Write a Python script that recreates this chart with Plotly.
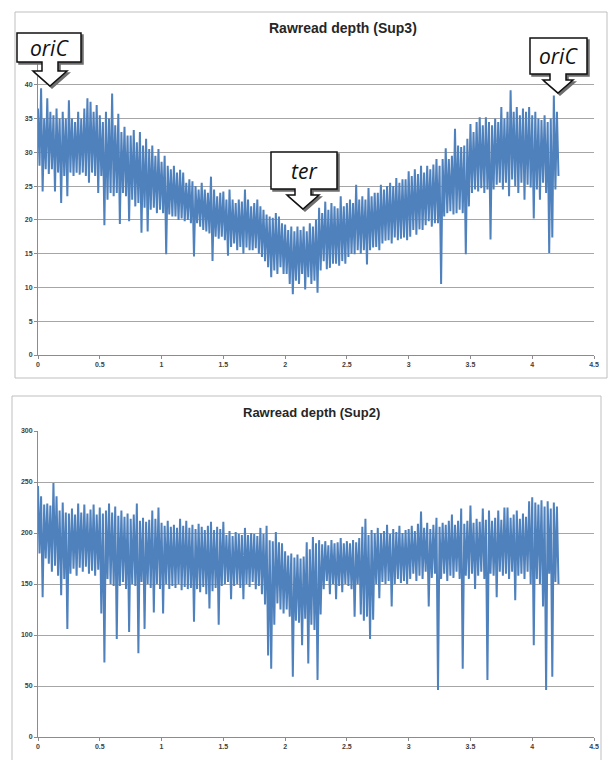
import plotly.graph_objects as go

# ---------------- data ----------------
# genome position step (Mb) between successive envelope samples
step = 0.025
x_ticks = [0, 0.5, 1, 1.5, 2, 2.5, 3, 3.5, 4, 4.5]
x_tick_text = ["0", "0.5", "1", "1.5", "2", "2.5", "3", "3.5", "4", "4.5"]
y_ticks_sup3 = [0, 5, 10, 15, 20, 25, 30, 35, 40, 45]
y_tick_text_sup3 = ["0", "5", "10", "15", "20", "25", "30", "35", "40", ""]
y_ticks_sup2 = [0, 50, 100, 150, 200, 250, 300]
y_tick_text_sup2 = ["0", "50", "100", "150", "200", "250", "300"]

# Sup3: local highs / lows of the raw read depth trace
sup3_high = [
    36.5, 39.5, 35, 38, 36, 35.5, 36.5, 35, 36, 35,
    37.7, 35, 34.5, 36, 35, 36.5, 38, 37.5, 36, 37,
    35.5, 34.5, 36, 35, 38.7, 34, 35.7, 33, 33.8, 32.5,
    32.5, 33.3, 31.5, 33, 31, 32, 30.5, 31, 29.5, 30.5,
    28.6, 29.5, 28, 27.5, 28, 27, 27.4, 27, 25.5, 26,
    25.7, 25, 24.5, 25.5, 24.5, 24, 26.4, 24.5, 23.5, 24,
    24.2, 23, 24.5, 23, 22.5, 23, 22.7, 24.5, 23, 22,
    22.5, 23, 22, 21.5, 20.8, 20.5, 20.3, 21, 20.5, 19.5,
    19.3, 18.5, 19, 18.3, 19, 18.5, 19, 18.3, 19.5, 19,
    20, 21.8, 21, 22.7, 21.5, 22.5, 22, 21.7, 23.5, 22,
    22.5, 23, 22.5, 25.2, 23, 23.5, 23, 24.7, 23.5, 24,
    24, 25.2, 24.5, 25, 25.5, 25, 26.2, 25.5, 26, 26,
    27.2, 26.5, 27.5, 26.8, 28, 27, 28, 27.5, 28.2, 29,
    28, 29, 30.6, 29, 29.5, 33.5, 31, 30.8, 31, 32,
    34.2, 33, 34.5, 35.2, 34, 35.2, 34.5, 34, 35, 34.5,
    36.7, 35, 36, 39.2, 36, 36.7, 35.5, 36.5, 36, 36.7,
    35.5, 36, 35, 34.8, 35.5, 34.5, 35, 38.4, 36,
]
sup3_low = [
    28, 24.2, 27.5, 26.8, 27.5, 24.2, 27, 22.5, 26.5, 23.5,
    27, 26.5, 27, 26.7, 27, 26.5, 25.5, 27, 26.5, 24,
    26.5, 19.2, 23, 24, 23.5, 24, 19.4, 24, 23.5, 19.8,
    23, 22, 22.5, 18.1, 21.8, 18.3, 21.5, 21.8, 21, 21.5,
    21, 14.9, 20.8, 20.5, 20.5, 20, 20.2, 19.8, 20, 19.5,
    14.6, 19.5, 19, 18.5, 18.3, 18, 13.9, 17.5, 17.2, 17.5,
    17, 14.7, 16, 16.5, 15.5, 16, 15, 15.9, 15.5, 15.5,
    15.8, 15, 14.5, 13.9, 13, 11.5, 12.5, 12, 13, 12,
    12, 10.5, 9, 11, 10.5, 12, 9.7, 11.5, 10.5, 11,
    9.2, 12.5, 13.9, 12.7, 12.9, 13.5, 13.5, 13.2, 13.9, 13.5,
    14.5, 15, 14.9, 15.5, 15, 15.5, 13.4, 15.5, 15.9, 16,
    15.5, 16.5, 16.9, 17, 16.5, 17.4, 17, 17.2, 17.4, 17,
    17.5, 18.5, 17.8, 18.6, 18.5, 19.2, 19.8, 19, 19.5, 19.5,
    10.5, 20.5, 21, 21.3, 20.8, 21, 21.5, 21, 14.9, 22,
    24, 24.5, 24.2, 24.7, 24, 24.5, 17.1, 24.5, 25.2, 25.5,
    24.5, 25.5, 23.5, 26, 25, 24, 25.5, 23, 25.2, 24.8,
    20.2, 24.5, 23, 25.5, 24, 15.1, 17.4, 24.5, 26.5,
]

# Sup2: local highs / lows of the raw read depth trace
sup2_high = [
    246, 236, 228, 229, 227, 249, 236, 222, 230, 220,
    219, 224, 218, 229, 220, 228, 219, 223, 228, 218,
    225, 219, 222, 229, 220, 226, 217, 222, 216, 219,
    214, 218, 229, 212, 215, 211, 213, 222, 214, 225,
    210, 207, 212, 206, 208, 205, 214, 207, 212, 205,
    208, 204, 209, 206, 203, 207, 211, 203, 206, 204,
    211, 198, 202, 197, 201, 199, 198, 205, 198, 200,
    199, 197, 205, 199, 207, 193, 192, 201, 191, 190,
    182, 178, 180, 176, 179, 175, 177, 191, 184, 196,
    190, 193, 189, 192, 188, 193, 190, 191, 195, 190,
    192, 190, 193, 191, 195, 206, 214, 198, 203, 200,
    205, 200, 202, 208, 199, 204, 201, 207, 200, 203,
    204, 207, 202, 209, 221, 205, 210, 204, 208, 215,
    206, 210, 208, 212, 218, 208, 212, 224, 209, 212,
    227, 210, 214, 211, 224, 213, 222, 212, 215, 222,
    213, 225, 225, 215, 218, 222, 214, 219, 216, 231,
    235, 230, 228, 232, 226, 231, 224, 230, 226,
]
sup2_low = [
    180, 137, 175, 170, 162, 168, 158, 139, 155, 106,
    160, 165, 158, 166, 162, 167, 160, 163, 158, 164,
    121, 73, 155, 150, 148, 96, 148, 152, 145, 103,
    150, 148, 82, 152, 106, 150, 146, 122, 150, 145,
    121, 150, 145, 148, 146, 150, 144, 147, 145, 146,
    113, 145, 142, 147, 140, 126, 143, 146, 110, 148,
    150, 152, 135, 148, 150, 146, 135, 150, 147, 152,
    145, 148, 140, 130, 80, 67, 110, 131, 125, 121,
    125, 118, 59, 114, 112, 90, 116, 72, 110, 105,
    56, 120, 145, 153, 140, 150, 135, 148, 142, 150,
    148, 145, 118, 150, 120, 114, 118, 96, 115, 150,
    136, 152, 150, 153, 128, 150, 155, 151, 153, 150,
    155, 160, 153, 158, 155, 162, 128, 156, 160, 46,
    155, 160, 153, 158, 156, 162, 155, 67, 158, 155,
    160, 145, 158, 162, 155, 56, 160, 158, 137, 162,
    158, 160, 155, 162, 134, 158, 160, 155, 162, 150,
    90, 155, 150, 128, 46, 160, 59, 152, 150,
]

titles = ["Rawread depth (Sup3)", "Rawread depth (Sup2)"]
callouts = ["oriC", "ter", "oriC"]


# ---------------- build traces ----------------
def zigzag(highs, lows):
    xs, ys = [], []
    for i, (h, l) in enumerate(zip(highs, lows)):
        xs += [i * step, i * step + step / 2]
        ys += [h, l]
    return xs, ys


def bold(labels):
    return ["<b>" + t + "</b>" if t else "" for t in labels]


LINE = "rgb(79,129,189)"
x3, y3 = zigzag(sup3_high, sup3_low)
x2, y2 = zigzag(sup2_high, sup2_low)

fig = go.Figure()
fig.add_trace(go.Scatter(x=x3, y=y3, mode="lines", xaxis="x", yaxis="y",
                         line=dict(color=LINE, width=2), showlegend=False,
                         hoverinfo="skip"))
fig.add_trace(go.Scatter(x=x2, y=y2, mode="lines", xaxis="x2", yaxis="y2",
                         line=dict(color=LINE, width=2), showlegend=False,
                         hoverinfo="skip"))

# ---------------- layout geometry (pixels -> paper) ----------------
W, H = 612, 760
ML, MR, MT, MB = 38, 18, 51, 23
PW, PH = W - ML - MR, H - MT - MB


def px(xp):
    return (xp - ML) / PW


def py(yp):
    return (H - MB - yp) / PH


TICKFONT = dict(family="Liberation Sans", size=7, color="#404040")
GRID = "#A6A6A6"
AX = "#8C8C8C"

common_x = dict(range=[0, 4.5], tickvals=x_ticks, ticktext=bold(x_tick_text),
                showgrid=False, zeroline=False, showline=True, linecolor=AX,
                linewidth=1, ticks="outside", ticklen=3, tickcolor=AX,
                tickfont=TICKFONT, fixedrange=True, automargin=False)
common_y = dict(showgrid=True, gridcolor=GRID, gridwidth=1, zeroline=False,
                showline=True, linecolor=AX, linewidth=1, ticks="outside",
                ticklen=3, tickcolor=AX, tickfont=TICKFONT, fixedrange=True,
                automargin=False)

fig.update_layout(
    width=W, height=H,
    margin=dict(l=ML, r=MR, t=MT, b=MB, pad=0, autoexpand=False),
    paper_bgcolor="white", plot_bgcolor="white",
    xaxis=dict(common_x, domain=[0, 1], anchor="y"),
    yaxis=dict(common_y, domain=[py(355), 1], range=[0, 45],
               tickvals=y_ticks_sup3, ticktext=bold(y_tick_text_sup3), anchor="x"),
    xaxis2=dict(common_x, domain=[0, 1], anchor="y2"),
    yaxis2=dict(common_y, domain=[0, py(431)], range=[0, 300],
                tickvals=y_ticks_sup2, ticktext=bold(y_tick_text_sup2), anchor="x2"),
)

shapes = []
# chart-area borders
shapes.append(dict(type="rect", xref="paper", yref="paper",
                   x0=px(15), x1=px(607), y0=py(378), y1=py(12),
                   line=dict(color="#BFBFBF", width=1), layer="below"))
shapes.append(dict(type="rect", xref="paper", yref="paper",
                   x0=px(12), x1=px(601), y0=py(775), y1=py(396),
                   line=dict(color="#BFBFBF", width=1), layer="below"))


def callout_path(x0, y0, x1, y1, tx, ty, nw, hw, ny, dx=0, dy=0):
    pts = [(x0, y0), (x1, y0), (x1, y1), (tx + nw, y1), (tx + nw, ny),
           (tx + hw, ny), (tx, ty), (tx - hw, ny), (tx - nw, ny),
           (tx - nw, y1), (x0, y1)]
    s = ""
    for k, (a, b) in enumerate(pts):
        s += ("M" if k == 0 else "L") + f"{px(a + dx):.5f},{py(b + dy):.5f} "
    return s + "Z"


boxes = [  # x0, y0, x1, y1, tip x, tip y, neck half, head half, neck bottom
    (17, 33, 81, 62, 50, 86, 8, 17, 71),
    (271, 152, 337, 189, 303, 209, 8, 16, 195),
    (530, 38, 587, 74, 558, 93, 8, 15, 80),
]
for (bx0, by0, bx1, by1, tx, ty, nw, hw, ny), label in zip(boxes, callouts):
    shapes.append(dict(type="path", xref="paper", yref="paper",
                       path=callout_path(bx0, by0, bx1, by1, tx, ty, nw, hw, ny, 2, 2),
                       fillcolor="#6E6E6E", line=dict(color="#6E6E6E", width=1.5),
                       layer="above"))
    shapes.append(dict(type="path", xref="paper", yref="paper",
                       path=callout_path(bx0, by0, bx1, by1, tx, ty, nw, hw, ny),
                       fillcolor="white", line=dict(color="#111111", width=1.5),
                       layer="above"))
fig.update_layout(shapes=shapes)

annotations = [
    dict(text="<b>" + titles[0] + "</b>", xref="paper", yref="paper",
         x=px(343), y=py(28), showarrow=False, xanchor="center", yanchor="middle",
         font=dict(family="Liberation Sans", size=14, color="#262626")),
    dict(text="<b>" + titles[1] + "</b>", xref="paper", yref="paper",
         x=px(311), y=py(412), showarrow=False, xanchor="center", yanchor="middle",
         font=dict(family="Liberation Sans", size=13, color="#262626")),
]
for (bx0, by0, bx1, by1, tx, ty, nw, hw, ny), label in zip(boxes, callouts):
    annotations.append(dict(text="<i>" + label + "</i>", xref="paper", yref="paper",
                            x=px((bx0 + bx1) / 2), y=py((by0 + by1) / 2),
                            showarrow=False, xanchor="center", yanchor="middle",
                            font=dict(family="Open Sans", size=21, color="#111111")))
fig.update_layout(annotations=annotations)

fig.write_html("out.html",
               config={"displayModeBar": False, "staticPlot": True},
               post_script="document.body.style.margin='0';"
                           "document.body.style.overflow='hidden';")
